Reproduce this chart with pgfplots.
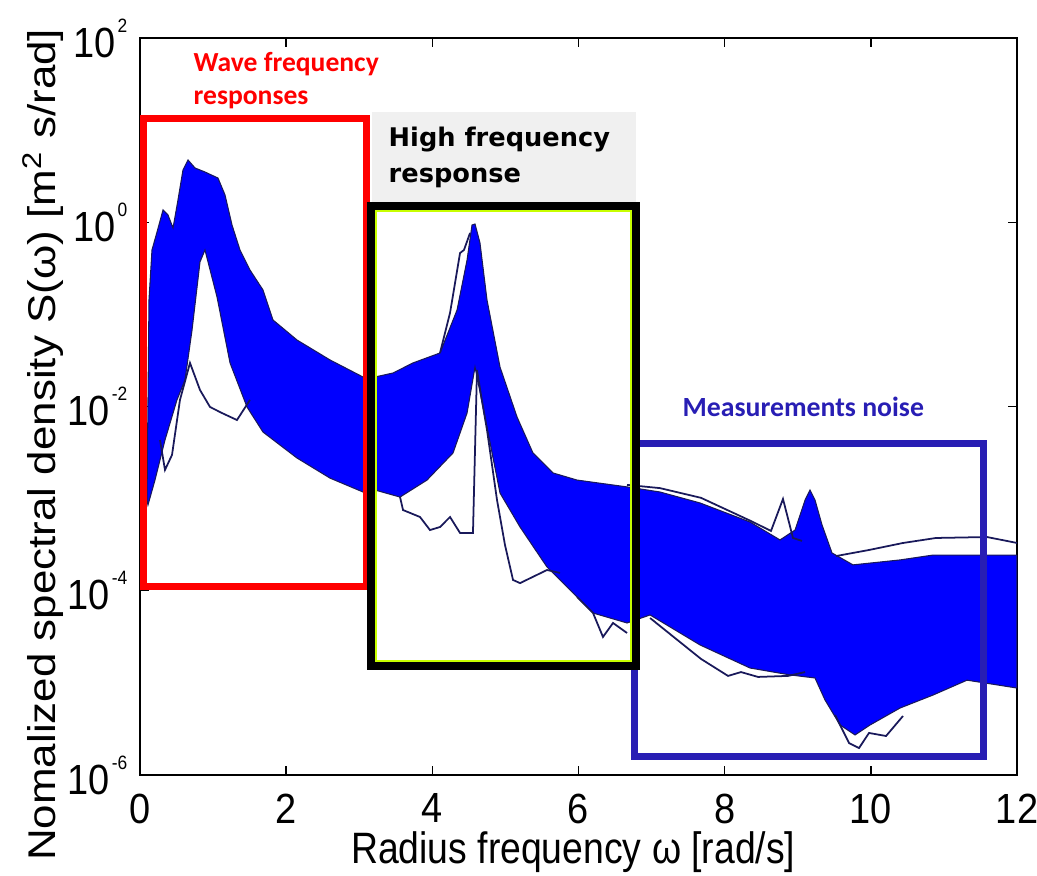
\documentclass[border=0pt]{standalone}
\usepackage{fontspec}
\setmainfont{Liberation Sans}
\newfontfamily\carlito{Carlito}
\newfontfamily\dejavu{DejaVu Sans}
\usepackage{graphicx}
\usepackage{pgfplots}
\pgfplotsset{compat=1.18}
\definecolor{band}{RGB}{0,0,255}
\definecolor{edge}{RGB}{25,25,90}
\definecolor{noiseblue}{RGB}{40,30,180}
\definecolor{limeline}{RGB}{200,255,0}
\definecolor{boxgray}{RGB}{240,240,240}
\newcommand{\sq}[1]{\scalebox{0.9}[1]{#1}}
\newcommand{\tl}[1]{\sq{10\hspace{0.6pt}\raisebox{7.1pt}{\fontsize{5.5}{6}\selectfont #1}}}
\begin{document}
\begin{tikzpicture}
\useasboundingbox (-1.40,-1.01) rectangle (8.97,7.75);
\begin{axis}[
  at={(0,0)}, anchor=south west,
  scale only axis, width=8.77cm, height=7.37cm,
  xmin=0, xmax=12, ymode=log, ymin=1e-6, ymax=1e2,
  xtick={0,2,4,6,8,10,12},
  xticklabels={\sq{0},\sq{2},\sq{4},\sq{6},\sq{8},\sq{10},\sq{12}},
  ytick={1e-6,1e-4,1e-2,1,1e2},
  yticklabels={\tl{-6},\tl{-4},\tl{-2},\tl{0},\tl{2}},
  yminorticks=false, xminorticks=false,
  tick align=inside, major tick length=0.09cm,
  tick style={black, line width=0.4pt},
  axis line style={black, line width=0.5pt},
  ticklabel style={font=\fontsize{12}{14}\selectfont, inner sep=0pt},
  xticklabel style={anchor=north, yshift=-5.1pt},
  yticklabel style={anchor=east, xshift=-3.4pt},
  xlabel={\scalebox{0.85}[1]{Radius frequency ω [rad/s]}},
  ylabel={\scalebox{1}[0.88]{Nomalized spectral density S(ω) [m\textsuperscript{2} s/rad]}},
  label style={font=\fontsize{12.5}{15}\selectfont},
  xlabel style={at={(axis description cs:0.494,-0.1045)}, anchor=center},
  ylabel style={at={(axis description cs:-0.0969,0.448)}, anchor=base},
]
% blue band of spectra (upper envelope, then lower envelope back)
\addplot[draw=edge, line width=0.3pt, fill=band] coordinates {
(0.096,9.66e-4) (0.123,0.1432) (0.164,0.500) (0.233,0.783) (0.315,1.358) (0.383,1.199)
(0.452,0.867) (0.520,1.746) (0.588,3.69) (0.657,4.74) (0.753,3.88) (0.889,3.51)
(1.067,3.02) (1.163,1.98) (1.259,0.933) (1.368,0.500) (1.505,0.303) (1.683,0.184)
(1.820,0.0869) (2.148,0.0527) (2.600,0.0320) (3.051,0.0209) (3.216,0.0209) (3.462,0.0231)
(3.735,0.0297) (4.105,0.0381) (4.338,0.1114) (4.475,0.389) (4.543,0.933) (4.584,0.957)
(4.652,0.596) (4.748,0.1432) (4.926,0.0268) (5.159,7.69e-3) (5.377,3.13e-3) (5.651,1.90e-3)
(5.980,1.59e-3) (6.664,1.34e-3) (7.115,1.18e-3) (7.663,8.97e-4) (8.347,5.57e-4) (8.757,3.56e-4)
(8.963,4.56e-4) (9.100,9.66e-4) (9.168,1.24e-3) (9.236,9.66e-4) (9.332,5.18e-4) (9.469,2.57e-4)
(9.756,1.91e-4) (10.399,2.16e-4) (10.851,2.44e-4) (12.0,2.44e-4)
(12.0,8.79e-6) (11.316,1.07e-5) (10.851,7.38e-6) (10.399,5.33e-6) (9.989,3.49e-6) (9.784,2.72e-6)
(9.579,3.49e-6) (9.373,6.52e-6) (9.236,1.13e-5) (8.894,1.22e-5) (8.347,1.45e-5) (7.663,2.58e-5)
(6.979,5.46e-5) (6.664,4.47e-5) (6.199,5.73e-5) (5.980,8.55e-5) (5.569,1.81e-4) (5.200,4.92e-4)
(4.926,1.15e-3) (4.693,9.88e-3) (4.584,0.0268) (4.475,8.49e-3) (4.283,3.13e-3) (3.927,1.59e-3)
(3.558,1.04e-3) (3.216,1.24e-3) (3.051,1.18e-3) (2.600,1.67e-3) (2.148,2.76e-3) (1.683,5.28e-3)
(1.464,9.88e-3) (1.232,0.0297) (1.054,0.1545) (0.889,0.500) (0.821,0.371) (0.712,0.0676)
(0.616,0.0194) (0.506,0.0118) (0.342,4.33e-3) (0.205,1.59e-3) (0.109,8.53e-4) (0.096,9.66e-4)
};
% individual outlying spectra
\addplot[edge, line width=0.5pt] coordinates {
(0.274,4.33e-3) (0.342,2.05e-3) (0.438,2.98e-3) (0.547,0.0118) (0.684,0.0297) (0.821,0.0151)
(0.958,9.88e-3) (1.122,8.49e-3) (1.327,7.13e-3) (1.505,0.0118)
};
\addplot[edge, line width=0.5pt] coordinates {
(3.558,1.04e-3) (3.599,7.52e-4) (3.831,6.32e-4) (3.968,4.56e-4) (4.105,4.92e-4) (4.242,6.32e-4)
(4.379,4.24e-4) (4.556,4.24e-4) (4.611,0.0249) (4.666,0.0133) (4.748,5.56e-3) (4.885,9.66e-4)
(4.994,3.14e-4) (5.104,1.31e-4) (5.200,1.21e-4) (5.569,1.68e-4) (5.747,1.56e-4)
};
\addplot[edge, line width=0.5pt] coordinates {
(4.105,0.0381) (4.242,0.1035) (4.379,0.463) (4.433,0.500) (4.516,0.764)
};
\addplot[edge, line width=0.5pt] coordinates {
(5.980,8.55e-5) (6.199,5.73e-5) (6.335,3.15e-5) (6.472,4.47e-5) (6.664,3.48e-5)
};
\addplot[edge, line width=0.5pt] coordinates {
(6.664,1.41e-3) (7.115,1.30e-3) (7.676,1.02e-3) (8.360,5.71e-4) (8.634,4.46e-4) (8.798,9.91e-4)
(8.935,3.74e-4) (9.058,3.47e-4)
};
\addplot[edge, line width=0.5pt] coordinates {
(9.524,2.38e-4) (9.975,2.77e-4) (10.440,3.30e-4) (10.892,3.74e-4) (11.590,3.83e-4) (12.0,3.30e-4)
};
\addplot[edge, line width=0.5pt] coordinates {
(6.979,5.06e-5) (7.676,1.82e-5) (8.046,1.19e-5) (8.224,1.31e-5) (8.456,1.16e-5) (8.867,1.19e-5)
(9.100,1.31e-5)
};
\addplot[edge, line width=0.5pt] coordinates {
(9.510,4.48e-6) (9.702,2.22e-6) (9.838,1.96e-6) (9.975,2.86e-6) (10.208,2.65e-6) (10.440,4.37e-6)
};
% annotations
\fill[boxgray] (axis description cs:0.2645,0.772) rectangle (axis description cs:0.5656,0.8996);
\draw[red, line width=0.07cm] (axis cs:0.048,1.10e-4) rectangle (axis cs:3.10,13.4);
\draw[noiseblue, line width=0.07cm] (axis cs:6.767,1.57e-6) rectangle (axis cs:11.535,3.96e-3);
\draw[black, line width=0.08cm] (axis cs:3.161,1.52e-5) rectangle (axis cs:6.787,1.50);
\draw[limeline, line width=0.025cm] (axis cs:3.229,1.73e-5) rectangle (axis cs:6.719,1.32);
\node[anchor=base west, inner sep=0pt, text=red, font=\carlito\bfseries\fontsize{7.85}{9}\selectfont]
  at (axis description cs:0.0604,0.9539) {Wave frequency};
\node[anchor=base west, inner sep=0pt, text=red, font=\carlito\bfseries\fontsize{7.85}{9}\selectfont]
  at (axis description cs:0.0604,0.9104) {responses};
\node[anchor=base west, inner sep=0pt, font=\dejavu\bfseries\fontsize{7.3}{8}\selectfont]
  at (axis description cs:0.2828,0.8521) {High frequency};
\node[anchor=base west, inner sep=0pt, font=\dejavu\bfseries\fontsize{7.3}{8}\selectfont]
  at (axis description cs:0.2828,0.8046) {response};
\node[anchor=base west, inner sep=0pt, text=noiseblue, font=\carlito\bfseries\fontsize{7.9}{9}\selectfont]
  at (axis description cs:0.618,0.4858) {Measurements noise};
\end{axis}
\end{tikzpicture}
\end{document}
